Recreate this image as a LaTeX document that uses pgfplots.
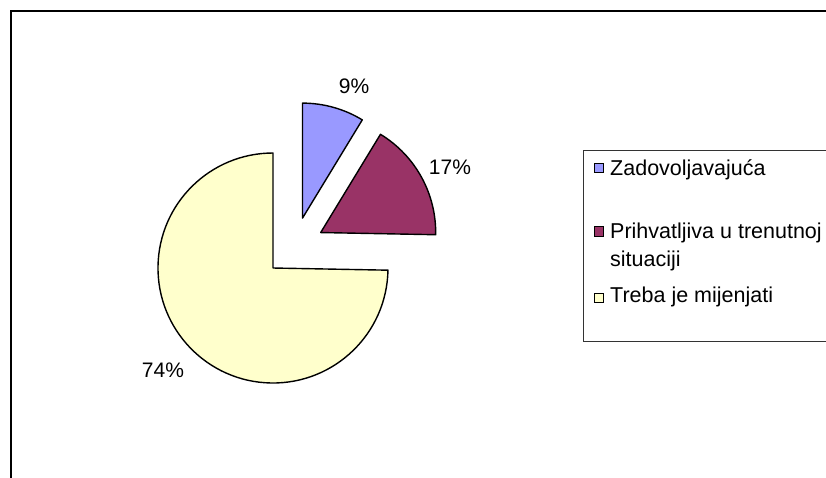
\documentclass[border=0pt]{standalone}
\usepackage{fontspec}
\setmainfont{Liberation Sans}
\usepackage{pgfplots}
\usepackage{pgfplotstable}
\pgfplotsset{compat=1.18}
\definecolor{cBlue}{HTML}{9999FF}
\definecolor{cRed}{HTML}{993366}
\definecolor{cYel}{HTML}{FFFFCC}
\pgfplotstableread{
value
8.7
16.6
74.7
}\piedata
\begin{document}
\begin{tikzpicture}[x=1pt,y=1pt]
\pgfplotstablegetelem{0}{value}\of\piedata \global\let\vA\pgfplotsretval
\pgfplotstablegetelem{1}{value}\of\piedata \global\let\vB\pgfplotsretval
\pgfplotstablegetelem{2}{value}\of\piedata \global\let\vC\pgfplotsretval
\pgfmathsetmacro\aA{90}
\pgfmathsetmacro\aB{\aA-3.6*\vA}
\pgfmathsetmacro\aC{\aB-3.6*\vB}
\pgfmathsetmacro\aD{\aC-3.6*\vC}
\pgfmathsetmacro\mA{(\aA+\aB)/2}
\pgfmathsetmacro\mB{(\aB+\aC)/2}
\pgfmathsetmacro\mC{(\aC+\aD)/2}
\begin{axis}[
  at={(0pt,0pt)}, anchor=origin,
  x=1pt, y=1pt,
  xmin=0, xmax=826, ymin=0, ymax=477,
  hide axis, clip=false,
]
% outer frame
\draw[black, line width=2.2pt] (axis cs:11,-20) -- (axis cs:11,466) -- (axis cs:840,466);
% pie slices
\filldraw[fill=cBlue, draw=black, line width=1.4pt, line join=round]
  (axis cs:294.4,230) ++(\mA:30pt) -- ++(\aA:115pt) arc[start angle=\aA, end angle=\aB, radius=115pt] -- cycle;
\filldraw[fill=cRed, draw=black, line width=1.4pt, line join=round]
  (axis cs:294.4,230) ++(\mB:30pt) -- ++(\aB:115pt) arc[start angle=\aB, end angle=\aC, radius=115pt] -- cycle;
\filldraw[fill=cYel, draw=black, line width=1.4pt, line join=round]
  (axis cs:294.4,230) ++(\mC:30pt) -- ++(\aC:115pt) arc[start angle=\aC, end angle=\aD, radius=115pt] -- cycle;
% percent labels
\node[font=\fontsize{21}{25}\selectfont] at (axis cs:354,391) {9\%};
\node[font=\fontsize{21}{25}\selectfont] at (axis cs:450,310) {17\%};
\node[font=\fontsize{21}{25}\selectfont] at (axis cs:163,107) {74\%};
% legend
\draw[black!80, line width=1pt] (axis cs:840,326) -- (axis cs:583.5,326) -- (axis cs:583.5,136) -- (axis cs:840,136);
\filldraw[fill=cBlue, draw=black, line width=1pt] (axis cs:594,304) rectangle (axis cs:603,313);
\filldraw[fill=cRed, draw=black, line width=1pt] (axis cs:594,241) rectangle (axis cs:603,250);
\filldraw[fill=cYel, draw=black, line width=1pt] (axis cs:594,175) rectangle (axis cs:603,184);
\node[font=\fontsize{21.5}{25}\selectfont, anchor=base west, inner sep=0pt] at (axis cs:610,301) {Zadovoljavajuća};
\node[font=\fontsize{21.5}{25}\selectfont, anchor=base west, inner sep=0pt] at (axis cs:610,238.5) {Prihvatljiva u trenutnoj};
\node[font=\fontsize{21.5}{25}\selectfont, anchor=base west, inner sep=0pt] at (axis cs:610,211) {situaciji};
\node[font=\fontsize{21.5}{25}\selectfont, anchor=base west, inner sep=0pt] at (axis cs:610,175) {Treba je mijenjati};
\end{axis}
\pgfresetboundingbox
\useasboundingbox (0,0) rectangle (826,477);
\end{tikzpicture}
\end{document}
